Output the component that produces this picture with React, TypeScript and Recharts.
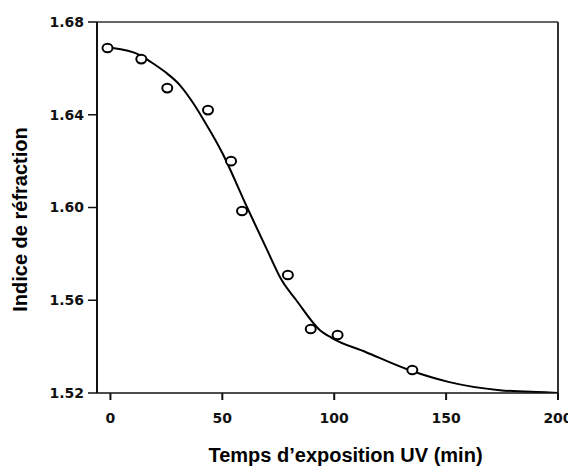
import React from 'react';
import {
    ComposedChart,
    Line,
    Scatter,
    XAxis,
    YAxis,
    ReferenceLine,
    Label
} from 'recharts';

// measured points (open circles)
const obsTime = [-1.3, 13.8, 25.4, 43.6, 53.9, 58.8, 79.3, 89.5, 101.5, 134.9];
const obsIndex = [1.6688, 1.664, 1.6515, 1.642, 1.62, 1.5985, 1.5709, 1.5476, 1.545, 1.5299];

// fitted curve
const fitTime = [-1.5, 1, 13, 18, 24.5, 31, 36.5, 42, 50, 52, 61, 70, 76.5, 83, 93.5, 99, 114, 133.5, 151, 174, 196, 200];
const fitIndex = [1.669, 1.6688, 1.6658, 1.6628, 1.6584, 1.6528, 1.6457, 1.6372, 1.6235, 1.6195, 1.6002, 1.5817, 1.5687, 1.5601, 1.5472, 1.5437, 1.5377, 1.5299, 1.5248, 1.5212, 1.5202, 1.52];

const xTicks = [0, 50, 100, 150, 200];
const yTicks = [1.52, 1.56, 1.6, 1.64, 1.68];

const obsData = obsTime.map((t, i) => ({ t, n: obsIndex[i] }));
const fitData = fitTime.map((t, i) => ({ t, n: fitIndex[i] }));

const tickFont = { fontFamily: 'DejaVu Sans', fontWeight: 700, fontSize: 14, fill: '#111' };
const labelFont = { fontFamily: 'Liberation Sans, Arial, sans-serif', fontWeight: 700, fontSize: 20, fill: '#000' };

const OpenCircle = (props: any) => {
    const { cx, cy } = props;
    if (cx == null || cy == null) return null;
    return <ellipse cx={cx} cy={cy} rx={5} ry={4.3} fill="#fff" stroke="#000" strokeWidth={2} />;
};

export default function App() {
    return (
        <ComposedChart
            width={568}
            height={459}
            margin={{ top: 14, right: 18, left: 0, bottom: 0 }}
            style={{ background: '#fff' }}
        >
            <XAxis
                dataKey="t"
                type="number"
                domain={[-6, 200]}
                ticks={xTicks}
                allowDataOverflow
                height={74}
                tickSize={7}
                tickMargin={13}
                tick={tickFont}
                axisLine={{ stroke: '#111', strokeWidth: 1.5 }}
                tickLine={{ stroke: '#111', strokeWidth: 2 }}
            >
                <Label
                    content={(p: any) => {
                        const vb = p.viewBox;
                        return (
                            <text x={vb.x + vb.width / 2 + 18} y={vb.y + 69} textAnchor="middle" style={labelFont}>
                                Temps d’exposition UV (min)
                            </text>
                        );
                    }}
                />
            </XAxis>
            <YAxis
                dataKey="n"
                type="number"
                domain={[1.52, 1.68]}
                ticks={yTicks}
                allowDataOverflow
                width={89}
                tickSize={9}
                tickMargin={4}
                tick={tickFont}
                tickFormatter={(v: number) => v.toFixed(2)}
                axisLine={{ stroke: '#111', strokeWidth: 2 }}
                tickLine={{ stroke: '#111', strokeWidth: 1.5 }}
            >
                <Label
                    content={(p: any) => {
                        const vb = p.viewBox;
                        const x = 12;
                        const y = vb.y + vb.height / 2 + 12;
                        return (
                            <text
                                x={x}
                                y={y}
                                textAnchor="middle"
                                dominantBaseline="central"
                                transform={`rotate(-90 ${x} ${y})`}
                                style={labelFont}
                            >
                                Indice de réfraction
                            </text>
                        );
                    }}
                />
            </YAxis>
            <ReferenceLine y={1.68} stroke="#333" strokeWidth={1.5} />
            <ReferenceLine x={200} stroke="#333" strokeWidth={2} />
            <Line
                data={fitData}
                dataKey="n"
                type="monotone"
                stroke="#000"
                strokeWidth={2}
                dot={false}
                activeDot={false}
                isAnimationActive={false}
            />
            <Scatter data={obsData} dataKey="n" shape={<OpenCircle />} isAnimationActive={false} />
        </ComposedChart>
    );
}
